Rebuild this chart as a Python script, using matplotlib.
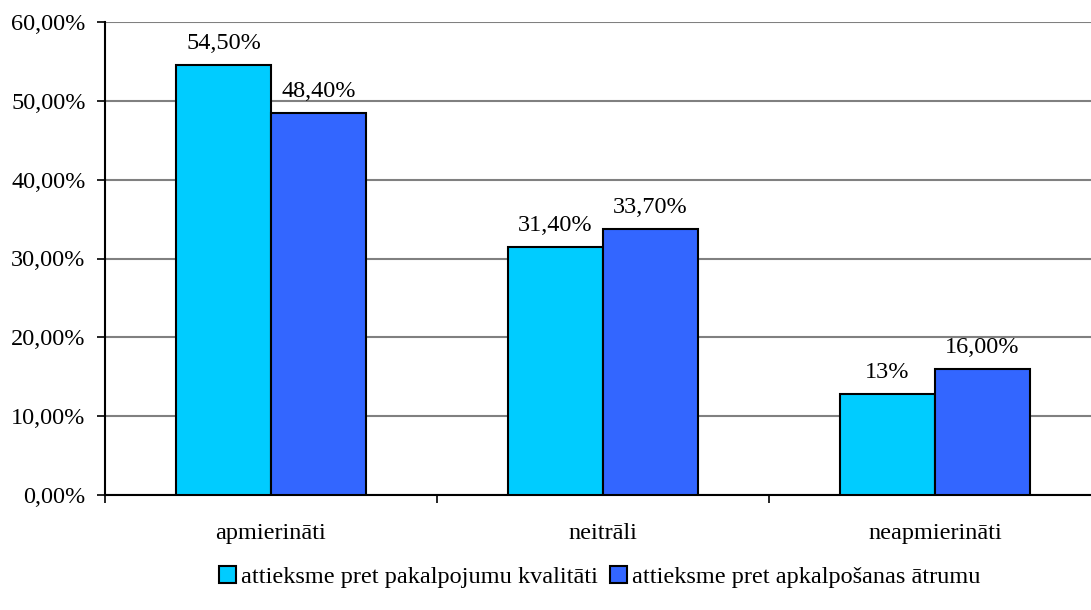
import numpy as np
import matplotlib.pyplot as plt
from matplotlib.ticker import FuncFormatter

categories = ['apmierināti', 'neitrāli', 'neapmierināti']
kvalitate = [54.5, 31.4, 12.8]
atrums = [48.4, 33.7, 16.0]
kvalitate_labels = ['54,50%', '31,40%', '13%']
atrums_labels = ['48,40%', '33,70%', '16,00%']
series_names = ['attieksme pret pakalpojumu kvalitāti',
                'attieksme pret apkalpošanas ātrumu']

plt.rcParams['font.family'] = ['Liberation Serif', 'DejaVu Serif']
plt.rcParams['font.size'] = 17.5

fig = plt.figure(figsize=(10.91, 6.10), dpi=100)
ax = fig.add_axes([105 / 1091, 115 / 610, 996 / 1091, 473 / 610])

x = np.arange(len(categories))
w = 0.286
b1 = ax.bar(x - w / 2, kvalitate, w, color='#00CCFF', edgecolor='black',
            linewidth=1.5, label=series_names[0], zorder=3)
b2 = ax.bar(x + w / 2, atrums, w, color='#3366FF', edgecolor='black',
            linewidth=1.5, label=series_names[1], zorder=3)

# data labels above each bar
for bars, labels in ((b1, kvalitate_labels), (b2, atrums_labels)):
    for rect, lab in zip(bars, labels):
        ax.annotate(lab, (rect.get_x() + rect.get_width() / 2, rect.get_height()),
                    xytext=(0, 8), textcoords='offset points',
                    ha='center', va='bottom')

ax.set_xlim(-0.5, len(categories) - 0.5)
ax.set_ylim(0, 60)
ax.set_yticks(np.arange(0, 61, 10))
ax.yaxis.set_major_formatter(FuncFormatter(lambda v, p: f'{v:.2f}%'.replace('.', ',')))
ax.yaxis.grid(True, color='#808080', linewidth=1.5, zorder=0)

# category labels between boundary ticks
ax.set_xticks(np.arange(-0.5, len(categories), 1))
ax.set_xticklabels([])
ax.set_xticks(x, minor=True)
ax.set_xticklabels(categories, minor=True)
ax.tick_params(axis='x', which='minor', length=0, pad=20)
ax.tick_params(axis='x', which='major', length=6, width=1.2, direction='out')
ax.tick_params(axis='y', length=6, width=1.2, direction='out', pad=8)

for s in ('top', 'right'):
    ax.spines[s].set_visible(False)
ax.spines['left'].set_linewidth(1.5)
ax.spines['bottom'].set_linewidth(1.5)

fig.legend(handles=[b1, b2], loc='center', bbox_to_anchor=(600 / 1091, 33 / 610),
           ncol=2, frameon=False, handlelength=0.7, handleheight=0.7,
           handletextpad=0.2, columnspacing=0.5)

fig.savefig('out.png', dpi=100)
